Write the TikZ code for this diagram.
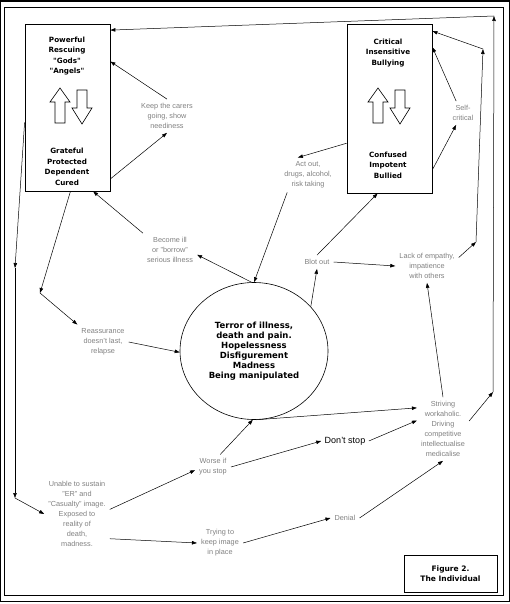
\documentclass[tikz,border=0pt]{standalone}
\usepackage{fontspec}
\setmainfont{Liberation Sans}
\newfontfamily\heavyfont{DejaVu Sans}
\usetikzlibrary{arrows.meta,shapes.geometric}

\begin{document}
\begin{tikzpicture}[x=1pt,y=-1pt,
 link/.style={-{Triangle[length=5pt,width=3.5pt]},line width=0.5pt},
 role/.style={draw,line width=0.8pt,minimum width=85pt,minimum height=167pt},
 rolename/.style={font=\heavyfont\bfseries\fontsize{7.2}{10.5}\selectfont,align=center},
 note/.style={text=black!50,font=\fontsize{7.3}{10}\selectfont,align=center,inner sep=4pt},
 swaparrow/.style={draw,line width=0.6pt,fill=white}]
 \useasboundingbox (0,0) rectangle (510,604);
 % frames
 \draw[line width=0.6pt] (0.5,1) rectangle (509,601);
 \draw[line width=2pt] (0,1) -- (510,1);
 \draw[line width=0.8pt] (4,7) rectangle (503,595);

 % the two role boxes
 \node[role] (rescuer) at (67.5,107.5) {};
 \node[role,minimum height=169pt] (critic) at (389.5,108.5) {};
 \node[rolename] (rescuer_top) at (67,56) {Powerful\\Rescuing\\"Gods"\\"Angels"};
 \node[rolename] (rescuer_bot) at (67,167) {Grateful\\Protected\\Dependent\\Cured};
 \node[rolename] (critic_top) at (388,53) {Critical\\Insensitive\\Bullying};
 \node[rolename] (critic_bot) at (388,165) {Confused\\Impotent\\Bullied};
 \foreach \dx in {0,318} {
  \begin{scope}[xshift=\dx pt]
   \draw[swaparrow] (60,88) -- (70,102) -- (65,102) -- (65,123) -- (55,123) -- (55,102) -- (50,102) -- cycle;
   \draw[swaparrow] (82,124) -- (92,108) -- (87,108) -- (87,90) -- (77,90) -- (77,108) -- (72,108) -- cycle;
  \end{scope}
 }

 % centre
 \node[draw,ellipse,line width=0.6pt,minimum width=148pt,minimum height=137pt,
  font=\heavyfont\bfseries\fontsize{8.5}{10}\selectfont,align=center] (terror) at (254,351)
  {Terror of illness,\\death and pain.\\Hopelessness\\Disfigurement\\Madness\\Being manipulated};

 % labels
 \node[note] (keep) at (167,116) {Keep the carers\\going, show\\neediness};
 \node[note] (actout) at (308,175) {Act out,\\drugs, alcohol,\\risk taking};
 \node[note] (selfcrit) at (463,113) {Self-\\critical};
 \node[note] (ill) at (170,250) {Become ill\\or "borrow"\\serious illness};
 \node[note] (reassure) at (103,342) {Reassurance\\doesn't last,\\relapse};
 \node[note] (blot) at (317,262) {Blot out};
 \node[note] (lack) at (427,266) {Lack of empathy,\\impatience\\with others};
 \node[note] (unable) at (77,514) {Unable to sustain\\"ER" and\\"Casualty" image.\\Exposed to\\reality of\\death,\\madness.};
 \node[note] (worse) at (213,467) {Worse if\\you stop};
 \node[note] (trying) at (220,543) {Trying to\\keep image\\in place};
 \node[note] (striving) at (443,429) {Striving\\workaholic.\\Driving\\competitive\\intellectualise\\medicalise};
 \node[font=\fontsize{9}{11}\selectfont] (dontstop) at (345,441) {Don't stop};
 \node[note] (denial) at (345,518) {Denial};
 \node[draw,line width=0.8pt,minimum width=93pt,minimum height=37pt,
  font=\heavyfont\bfseries\fontsize{7.5}{9.5}\selectfont,align=center] (caption) at (450.5,573.5) {Figure 2.\\The Individual};

 % corners of the long runs
 \coordinate (c_ll) at (40,293);
 \coordinate (c_l1) at (15,268);
 \coordinate (c_l2) at (15,498);
 \coordinate (c_r1) at (493,392);
 \coordinate (c_r2) at (494,16);
 \coordinate (c_m1) at (476,242);
 \coordinate (c_m2) at (483,49);

 \path[link]
 (rescuer.-59) edge (keep.south)
 (keep.north) edge (rescuer.47)
 (ill.north west) edge (rescuer.-73)
 (terror.92) edge (ill.-10)
 (rescuer.-88) edge (c_ll)
 (c_ll) edge (reassure.north west)
 (reassure.east) edge (terror.181)
 (rescuer.199) edge (c_l1)
 (c_l1) edge (c_l2)
 (c_l2) edge (unable.west)
 (unable.8) edge (worse.190)
 (unable.-37) edge (trying.west)
 (worse.60) edge (terror.269)
 (worse.east) edge (dontstop.west)
 (dontstop.east) edge (striving.162)
 (terror.272) edge (striving.141)
 (trying.east) edge (denial.west)
 (denial.east) edge (striving.south)
 (striving.17) edge (c_r1)
 (c_r1) edge (c_r2)
 (c_r2) edge (rescuer.61)
 (critic.219) edge (actout.120)
 (actout.220) edge (terror.north)
 (terror.38) edge (blot.south)
 (blot.north) edge (critic.262)
 (blot.east) edge (lack.west)
 (striving.north) edge (lack.south)
 (lack.15) edge (c_m1)
 (c_m1) edge (c_m2)
 (c_m2) edge (critic.61)
 (selfcrit.120) edge (critic.55)
 (critic.-55) edge (selfcrit.-120);
\end{tikzpicture}
\end{document}
